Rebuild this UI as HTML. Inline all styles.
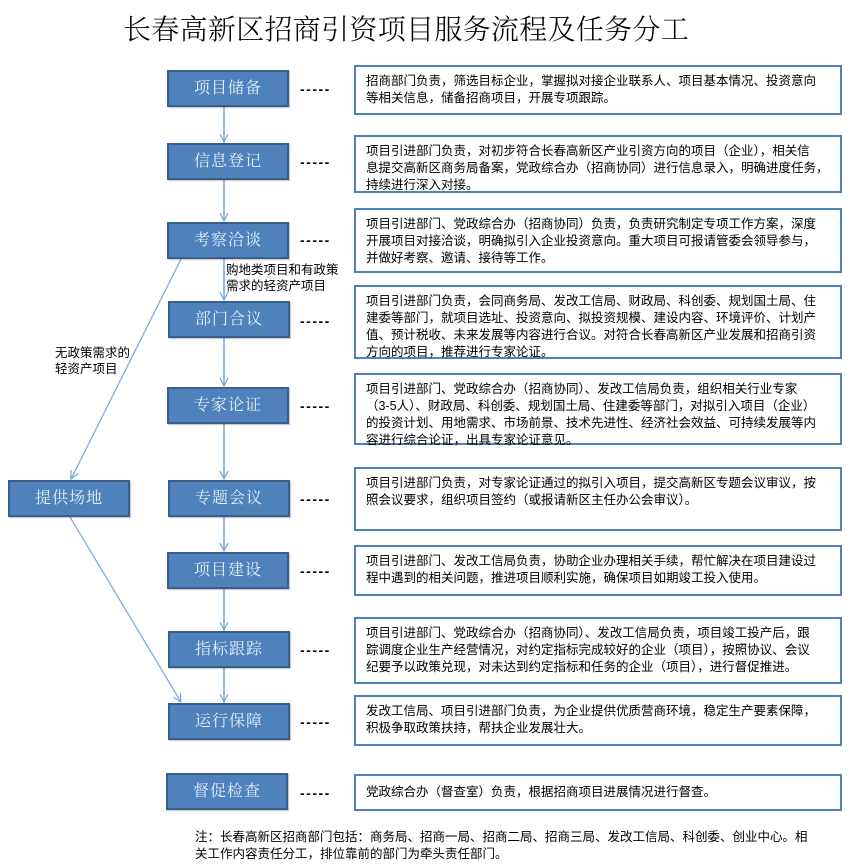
<!DOCTYPE html>
<html><head><meta charset="utf-8">
<style>
*{margin:0;padding:0;box-sizing:border-box}
body{width:850px;height:867px;background:#fff;position:relative;overflow:hidden;font-family:"Liberation Sans","Noto Sans CJK SC",sans-serif;color:#000}
.t{position:absolute;left:123px;top:8px;font-family:"Liberation Serif","Noto Serif CJK SC",serif;font-size:28px;font-weight:300;letter-spacing:0.3px;white-space:nowrap}
.n{position:absolute;width:122px;height:37px;background:#4f81bd;border:2px solid #3a5f8b;box-shadow:1px 1px 1px rgba(0,0,0,.25);color:#e6eef8;font-family:"Liberation Serif","Noto Serif CJK SC",serif;font-size:16px;line-height:33px;text-align:center;letter-spacing:1px}
.d{position:absolute;left:300px;font-size:14px;font-weight:bold;line-height:14px;letter-spacing:1.5px}
.b{position:absolute;left:354px;width:488px;border:2px solid #4f81bd;background:#fff;padding:6px 0 0 10px;font-size:12.5px;line-height:17px;white-space:nowrap}
.l{position:absolute;font-size:12.5px;line-height:16px;white-space:nowrap}
</style></head><body>
<div class="t">长春高新区招商引资项目服务流程及任务分工</div>

<svg width="850" height="867" style="position:absolute;left:0;top:0">
<defs><marker id="a" markerWidth="10" markerHeight="10" refX="9" refY="5" orient="auto" markerUnits="userSpaceOnUse"><path d="M1,1 L9,5 L1,9" fill="none" stroke="#7ba3d6" stroke-width="1.2"/></marker></defs>
<g stroke="#7ba3d6" stroke-width="1.5" fill="none">
<line x1="224" y1="107" x2="224" y2="142" marker-end="url(#a)"/>
<line x1="224" y1="180" x2="224" y2="221" marker-end="url(#a)"/>
<line x1="224" y1="259" x2="224" y2="300" marker-end="url(#a)"/>
<line x1="224" y1="338" x2="224" y2="386" marker-end="url(#a)"/>
<line x1="224" y1="424" x2="224" y2="479" marker-end="url(#a)"/>
<line x1="224" y1="517" x2="224" y2="551" marker-end="url(#a)"/>
<line x1="224" y1="589" x2="224" y2="630" marker-end="url(#a)"/>
<line x1="224" y1="668" x2="224" y2="702" marker-end="url(#a)"/>
<line x1="181" y1="259" x2="71" y2="479" stroke-width="1.2" marker-end="url(#a)"/>
<line x1="70" y1="517" x2="181" y2="702" stroke-width="1.2" marker-end="url(#a)"/>
</g></svg>

<div class="n" style="left:167px;top:70px">项目储备</div>
<div class="n" style="left:167px;top:143px">信息登记</div>
<div class="n" style="left:167px;top:222px">考察洽谈</div>
<div class="n" style="left:168px;top:301px">部门合议</div>
<div class="n" style="left:167px;top:387px">专家论证</div>
<div class="n" style="left:168px;top:480px">专题会议</div>
<div class="n" style="left:167px;top:552px">项目建设</div>
<div class="n" style="left:168px;top:631px">指标跟踪</div>
<div class="n" style="left:168px;top:703px">运行保障</div>
<div class="n" style="left:166px;top:773px">督促检查</div>
<div class="n" style="left:8px;top:480px">提供场地</div>

<div class="l" style="left:226px;top:262px">购地类项目和有政策<br>需求的轻资产项目</div>
<div class="l" style="left:55px;top:345px">无政策需求的<br>轻资产项目</div>

<div class="d" style="top:82px">-----</div>
<div class="d" style="top:155px">-----</div>
<div class="d" style="top:233px">-----</div>
<div class="d" style="top:314px">-----</div>
<div class="d" style="top:399px">-----</div>
<div class="d" style="top:492px">-----</div>
<div class="d" style="top:564px">-----</div>
<div class="d" style="top:643px">-----</div>
<div class="d" style="top:715px">-----</div>
<div class="d" style="top:786px">-----</div>

<div class="b" style="top:65px;height:50px">招商部门负责，筛选目标企业，掌握拟对接企业联系人、项目基本情况、投资意向<br>等相关信息，储备招商项目，开展专项跟踪。</div>
<div class="b" style="top:135px;height:58px">项目引进部门负责，对初步符合长春高新区产业引资方向的项目（企业），相关信<br>息提交高新区商务局备案，党政综合办（招商协同）进行信息录入，明确进度任务，<br>持续进行深入对接。</div>
<div class="b" style="top:208px;height:65px">项目引进部门、党政综合办（招商协同）负责，负责研究制定专项工作方案，深度<br>开展项目对接洽谈，明确拟引入企业投资意向。重大项目可报请管委会领导参与，<br>并做好考察、邀请、接待等工作。</div>
<div class="b" style="top:285px;height:74px">项目引进部门负责，会同商务局、发改工信局、财政局、科创委、规划国土局、住<br>建委等部门，就项目选址、投资意向、拟投资规模、建设内容、环境评价、计划产<br>值、预计税收、未来发展等内容进行合议。对符合长春高新区产业发展和招商引资<br>方向的项目，推荐进行专家论证。</div>
<div class="b" style="top:373px;height:72px">项目引进部门、党政综合办（招商协同）、发改工信局负责，组织相关行业专家<br>（3-5人）、财政局、科创委、规划国土局、住建委等部门，对拟引入项目（企业）<br>的投资计划、用地需求、市场前景、技术先进性、经济社会效益、可持续发展等内<br>容进行综合论证，出具专家论证意见。</div>
<div class="b" style="top:467px;height:64px">项目引进部门负责，对专家论证通过的拟引入项目，提交高新区专题会议审议，按<br>照会议要求，组织项目签约（或报请新区主任办公会审议）。</div>
<div class="b" style="top:545px;height:51px">项目引进部门、发改工信局负责，协助企业办理相关手续，帮忙解决在项目建设过<br>程中遇到的相关问题，推进项目顺利实施，确保项目如期竣工投入使用。</div>
<div class="b" style="top:617px;height:67px">项目引进部门、党政综合办（招商协同）、发改工信局负责，项目竣工投产后，跟<br>踪调度企业生产经营情况，对约定指标完成较好的企业（项目），按照协议、会议<br>纪要予以政策兑现，对未达到约定指标和任务的企业（项目），进行督促推进。</div>
<div class="b" style="top:695px;height:51px">发改工信局、项目引进部门负责，为企业提供优质营商环境，稳定生产要素保障，<br>积极争取政策扶持，帮扶企业发展壮大。</div>
<div class="b" style="top:774px;height:37px;padding-top:8px">党政综合办（督查室）负责，根据招商项目进展情况进行督查。</div>

<div class="l" style="left:195px;top:829px;font-size:12.5px;line-height:17px">注：长春高新区招商部门包括：商务局、招商一局、招商二局、招商三局、发改工信局、科创委、创业中心。相<br>关工作内容责任分工，排位靠前的部门为牵头责任部门。</div>
</body></html>
